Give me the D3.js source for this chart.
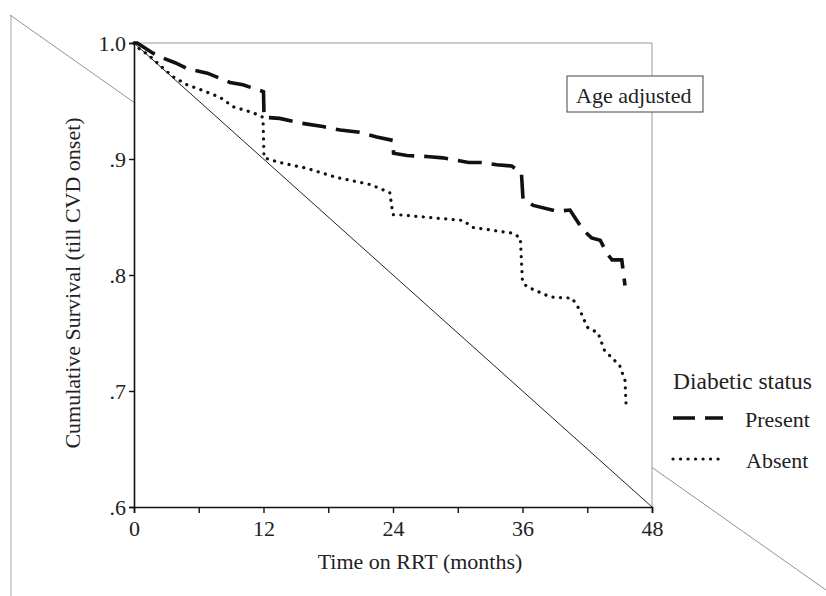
<!DOCTYPE html>
<html>
<head>
<meta charset="utf-8">
<script src="https://cdn.jsdelivr.net/npm/d3@7"></script>
<style>
body { margin: 0; background: #fff; }
text { font-family: "Liberation Serif", "Times New Roman", serif; fill: #222; }
</style>
</head>
<body>
<div id="chart"></div>
<script>
// survival curves (months, cumulative survival)
var presentTime = [0, 0.3, 1.8, 2.4, 3.8, 4.9, 6.8, 8.9, 10.1, 11.7, 12, 12.05, 13.5, 15.4, 17.5, 19.1, 20.9, 22.5, 24, 24.05, 25.3, 27.4, 28.6, 31, 32.3, 33.6, 35, 35.9, 36.05, 37, 39.2, 40.4, 41.6, 42.4, 43.2, 43.8, 44.3, 45.2, 45.5];
var presentSurv = [1.0, 1.0, 0.991, 0.988, 0.983, 0.978, 0.974, 0.966, 0.964, 0.959, 0.958, 0.936, 0.935, 0.931, 0.928, 0.925, 0.923, 0.919, 0.916, 0.905, 0.903, 0.902, 0.901, 0.897, 0.897, 0.895, 0.894, 0.888, 0.865, 0.860, 0.855, 0.856, 0.839, 0.832, 0.830, 0.819, 0.813, 0.813, 0.791];

var absentTime = [0, 0.5, 1.3, 2.5, 3.6, 4.9, 6.4, 8, 9.2, 11, 11.95, 12.05, 13.5, 16, 18.8, 21.9, 23.7, 24, 24.4, 30.5, 31.4, 35.1, 35.8, 36, 36.4, 38.6, 40.6, 41.3, 42, 43, 43.6, 45, 45.5, 45.6];
var absentSurv = [1.0, 0.995, 0.990, 0.980, 0.971, 0.964, 0.959, 0.953, 0.945, 0.940, 0.936, 0.901, 0.897, 0.892, 0.884, 0.878, 0.871, 0.852, 0.852, 0.847, 0.841, 0.836, 0.832, 0.794, 0.790, 0.781, 0.780, 0.770, 0.755, 0.750, 0.735, 0.722, 0.709, 0.688];

var xTicks = [0, 6, 12, 18, 24, 30, 36, 42, 48];
var xLabels = [0, 12, 24, 36, 48];
var yTicks = [1.0, 0.9, 0.8, 0.7, 0.6];
var yLabels = ["1.0", ".9", ".8", ".7", ".6"];
var legendNames = ["Present", "Absent"];

var w = 826;
var h = 596;

var svg = d3.select("#chart")
    .append("svg")
    .attr("width", w)
    .attr("height", h);

var x = d3.scaleLinear().domain([0, 48]).range([134, 652]);
var y = d3.scaleLinear().domain([0.6, 1.0]).range([507, 43]);

// scan artefacts: faint page edge and a stray diagonal behind the plot
svg.append("line")
    .attr("x1", 11).attr("y1", 15).attr("x2", 11).attr("y2", 596)
    .attr("stroke", "#aaa").attr("stroke-width", 1);
svg.append("line")
    .attr("x1", 10).attr("y1", 15).attr("x2", 826).attr("y2", 590)
    .attr("stroke", "#777").attr("stroke-width", 0.8);

// plot area (white so the stray diagonal is hidden)
svg.append("rect")
    .attr("x", x(0)).attr("y", y(1.0))
    .attr("width", x(48) - x(0)).attr("height", y(0.6) - y(1.0))
    .attr("fill", "#fff")
    .attr("stroke", "none");
svg.append("line")
    .attr("x1", x(0)).attr("y1", y(1.0)).attr("x2", x(48)).attr("y2", y(1.0))
    .attr("stroke", "#999").attr("stroke-width", 1);
svg.append("line")
    .attr("x1", x(48)).attr("y1", y(1.0)).attr("x2", x(48)).attr("y2", y(0.6))
    .attr("stroke", "#999").attr("stroke-width", 1);

// thin diagonal inside the plot
svg.append("line")
    .attr("x1", x(0)).attr("y1", y(1.0)).attr("x2", x(48)).attr("y2", y(0.6))
    .attr("stroke", "#222").attr("stroke-width", 1);

// axes
var xAxis = d3.axisBottom(x)
    .tickValues(xTicks)
    .tickSize(6)
    .tickPadding(7)
    .tickFormat(function (d) {
        return xLabels.indexOf(d) >= 0 ? d : "";
    });
var gx = svg.append("g")
    .attr("transform", "translate(0," + y(0.6) + ")")
    .call(xAxis);
gx.select(".domain").attr("stroke", "#111").attr("stroke-width", 1.6);
gx.selectAll(".tick line").attr("stroke", "#111").attr("stroke-width", 1.4);
gx.selectAll(".tick text")
    .attr("font-size", 22)
    .attr("font-family", "Liberation Serif")
    .attr("fill", "#222");

var yAxis = d3.axisLeft(y)
    .tickValues(yTicks)
    .tickSize(5)
    .tickPadding(3)
    .tickFormat(function (d, i) {
        return yLabels[i];
    });
var gy = svg.append("g")
    .attr("transform", "translate(" + x(0) + ",0)")
    .call(yAxis);
gy.select(".domain").attr("stroke", "#111").attr("stroke-width", 1.6);
gy.selectAll(".tick line").attr("stroke", "#111").attr("stroke-width", 1.4);
gy.selectAll(".tick text")
    .attr("font-size", 22)
    .attr("font-family", "Liberation Serif")
    .attr("fill", "#222");

// curves
var line = d3.line()
    .x(function (d) { return x(d[0]); })
    .y(function (d) { return y(d[1]); });

var presentData = presentTime.map(function (t, i) { return [t, presentSurv[i]]; });
var absentData = absentTime.map(function (t, i) { return [t, absentSurv[i]]; });

svg.append("path")
    .datum(absentData)
    .attr("d", line)
    .attr("fill", "none")
    .attr("stroke", "#111")
    .attr("stroke-width", 3.2)
    .attr("stroke-linecap", "round")
    .attr("stroke-dasharray", "0.1,7.4");

svg.append("path")
    .datum(presentData)
    .attr("d", line)
    .attr("fill", "none")
    .attr("stroke", "#111")
    .attr("stroke-width", 3.6)
    .attr("stroke-dasharray", "24,10");

// axis titles
svg.append("text")
    .attr("x", 420)
    .attr("y", 569)
    .attr("text-anchor", "middle")
    .attr("font-size", 22)
    .text("Time on RRT (months)");

svg.append("text")
    .attr("transform", "translate(80,283) rotate(-90)")
    .attr("text-anchor", "middle")
    .attr("font-size", 22)
    .text("Cumulative Survival (till CVD onset)");

// "Age adjusted" box
svg.append("rect")
    .attr("x", 567).attr("y", 76)
    .attr("width", 136).attr("height", 36)
    .attr("fill", "#fff")
    .attr("stroke", "#444")
    .attr("stroke-width", 1);
svg.append("text")
    .attr("x", 576)
    .attr("y", 103)
    .attr("font-size", 22)
    .text("Age adjusted");

// legend
svg.append("text")
    .attr("x", 673)
    .attr("y", 389)
    .attr("font-size", 23.5)
    .text("Diabetic status");

var legend = svg.selectAll(".legend")
    .data(legendNames)
    .enter()
    .append("g")
    .attr("class", "legend")
    .attr("transform", function (d, i) {
        return "translate(673," + (418 + i * 41) + ")";
    });

legend.append("line")
    .attr("x1", 0).attr("y1", 0)
    .attr("x2", function (d, i) { return i == 0 ? 50 : 48; })
    .attr("y2", 0)
    .attr("stroke", "#111")
    .attr("stroke-width", function (d, i) { return i == 0 ? 3.6 : 3.2; })
    .attr("stroke-linecap", function (d, i) { return i == 0 ? "butt" : "round"; })
    .attr("stroke-dasharray", function (d, i) { return i == 0 ? "22,10" : "0.1,7.4"; });

legend.append("text")
    .attr("x", function (d, i) { return i == 0 ? 72 : 73; })
    .attr("y", 9)
    .attr("font-size", 22)
    .text(function (d) { return d; });
</script>
</body>
</html>
